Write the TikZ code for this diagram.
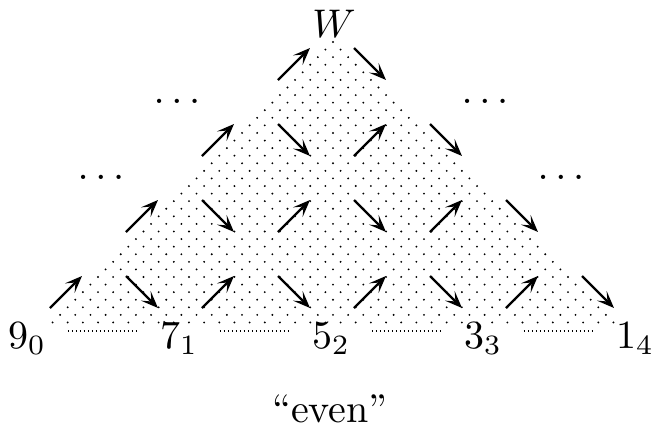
\documentclass[tikz,border=0pt]{standalone}
\usetikzlibrary{arrows.meta}
\begin{document}
\begin{tikzpicture}[x=0.25pt,y=-0.25pt,
  arr/.style={line width=0.6pt,-{Stealth[length=4.3pt,width=3.4pt,inset=2pt]}},
  lbl/.style={inner sep=0pt,anchor=base},
  dotline/.style={line width=0.4pt,dash pattern=on 0.4pt off 0.6pt}]
\useasboundingbox (0,0) rectangle (655,429);
% dotted triangle
\foreach \j in {0,...,37}{
  \foreach \k in {0,...,\j}{
    \fill (333-7.58*\j+15.16*\k, 42+7.58*\j) circle[radius=0.26pt];
  }
}
% arrows
\foreach \j in {0,...,3}{
  \pgfmathtruncatemacro{\kmax}{3-\j}
  \foreach \k in {0,...,\kmax}{
    \draw[arr] (50+76*\j+152*\k, 308-76*\j) -- ++(32,-32);
    \draw[arr] (126+76*\j+152*\k, 276-76*\j) -- ++(32,32);
  }
}
% labels
\node[lbl] (l9) at (27,348) {$9_0$};
\node[lbl] (l7) at (179,348) {$7_1$};
\node[lbl] (l5) at (331,348) {$5_2$};
\node[lbl] (l3) at (483,348) {$3_3$};
\node[lbl] (l1) at (635,348) {$1_4$};
\node[lbl] (W) at (334,37) {$W$};
\node[lbl] (ev) at (330,422) {``even''};
% ellipses
\node[lbl] (e1) at (101,179) {$\ldots$};
\node[lbl] (e2) at (177,103) {$\ldots$};
\node[lbl] (e3) at (485,103) {$\ldots$};
\node[lbl] (e4) at (561,179) {$\ldots$};
% dotted base segments
\draw[dotline] ([shift={(21,-17)}]l9.base east) -- ([shift={(-23,-17)}]l7.base west);
\draw[dotline] ([shift={(21,-17)}]l7.base east) -- ([shift={(-23,-17)}]l5.base west);
\draw[dotline] ([shift={(21,-17)}]l5.base east) -- ([shift={(-23,-17)}]l3.base west);
\draw[dotline] ([shift={(21,-17)}]l3.base east) -- ([shift={(-23,-17)}]l1.base west);
\end{tikzpicture}
\end{document}
